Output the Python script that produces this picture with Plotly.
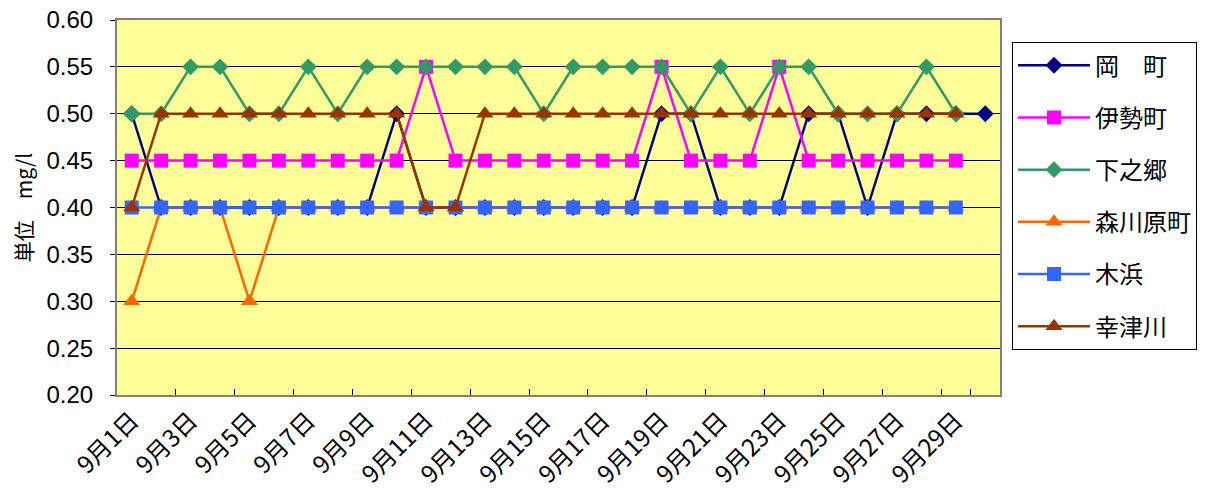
import plotly.graph_objects as go

# 9月の水質データ (単位 mg/l)
dates = [f'9月{d}日' for d in range(1, 31)]
tick_labels = dates[::2]

okamachi = [0.50, 0.40, 0.40, 0.40, 0.40, 0.40, 0.40, 0.40, 0.40, 0.50,
            0.40, 0.40, 0.40, 0.40, 0.40, 0.40, 0.40, 0.40, 0.50, 0.50,
            0.40, 0.40, 0.40, 0.50, 0.50, 0.40, 0.50, 0.50, 0.50, 0.50]
isecho = [0.45, 0.45, 0.45, 0.45, 0.45, 0.45, 0.45, 0.45, 0.45, 0.45,
          0.55, 0.45, 0.45, 0.45, 0.45, 0.45, 0.45, 0.45, 0.55, 0.45,
          0.45, 0.45, 0.55, 0.45, 0.45, 0.45, 0.45, 0.45, 0.45]
shimonogo = [0.50, 0.50, 0.55, 0.55, 0.50, 0.50, 0.55, 0.50, 0.55, 0.55,
             0.55, 0.55, 0.55, 0.55, 0.50, 0.55, 0.55, 0.55, 0.55, 0.50,
             0.55, 0.50, 0.55, 0.55, 0.50, 0.50, 0.50, 0.55, 0.50]
morikawara = [0.30, 0.40, 0.40, 0.40, 0.30, 0.40, 0.40, 0.40, 0.40, 0.40,
              0.40, 0.40, 0.40, 0.40, 0.40, 0.40, 0.40, 0.40, 0.40, 0.40,
              0.40, 0.40, 0.40, 0.40, 0.40, 0.40, 0.40, 0.40, 0.40]
kihama = [0.40] * 29
kotsugawa = [0.40, 0.50, 0.50, 0.50, 0.50, 0.50, 0.50, 0.50, 0.50, 0.50,
             0.40, 0.40, 0.50, 0.50, 0.50, 0.50, 0.50, 0.50, 0.50, 0.50,
             0.50, 0.50, 0.50, 0.50, 0.50, 0.50, 0.50, 0.50, 0.50]

series = [
    ('岡　町', okamachi, '#000080', 'diamond', 13),
    ('伊勢町', isecho, '#FF00FF', 'square', 14),
    ('下之郷', shimonogo, '#339966', 'diamond', 13),
    ('森川原町', morikawara, '#FF6600', 'triangle-up', 15),
    ('木浜', kihama, '#3366FF', 'square', 14),
    ('幸津川', kotsugawa, '#993300', 'triangle-up', 15),
]

fig = go.Figure()
for name, vals, col, sym, sz in series:
    fig.add_trace(go.Scatter(x=dates[:len(vals)], y=vals, name=name, legendgroup=name,
                             mode='lines+markers',
                             line=dict(color=col, width=2.5),
                             marker=dict(color=col, symbol=sym, size=sz)))

# page body has an 8px margin, so the figure is a bit smaller than the window
fig.update_layout(
    width=1205, height=484,
    margin=dict(l=109, r=213, t=12, b=97),
    paper_bgcolor='white', plot_bgcolor='#FFFF99',
    font=dict(family='Liberation Sans, Noto Sans CJK JP', size=22, color='black'),
    showlegend=True,
    legend=dict(x=1.0136, y=0.941, xanchor='left', yanchor='top',
                bordercolor='black', borderwidth=1, bgcolor='white',
                font=dict(family='Noto Sans CJK JP', size=24),
                traceorder='grouped', tracegroupgap=18, itemwidth=72),
)
fig.update_xaxes(type='category', categoryorder='array', categoryarray=dates,
                 range=[-0.5, 29.5], tickvals=tick_labels, tickangle=-45,
                 tickson='boundaries', ticks='inside', ticklen=6, tickcolor='black',
                 showgrid=False, showline=True, linecolor='#808080', linewidth=2, mirror=True,
                 automargin=False, ticklabeloverflow='allow',
                 tickfont=dict(family='Noto Sans CJK JP', size=24))
fig.update_yaxes(range=[0.2, 0.6], dtick=0.05, tickformat='.2f',
                 showgrid=True, gridcolor='black', gridwidth=1,
                 ticks='outside', ticklen=5, tickcolor='black', ticklabelstandoff=12,
                 showline=True, linecolor='#808080', linewidth=2, mirror=True,
                 zeroline=False, automargin=False, ticklabeloverflow='allow',
                 tickfont=dict(size=24),
                 title=dict(text='単位　mg/l', standoff=12,
                            font=dict(family='Noto Sans CJK JP', size=21)))

fig.write_html('out.html')
